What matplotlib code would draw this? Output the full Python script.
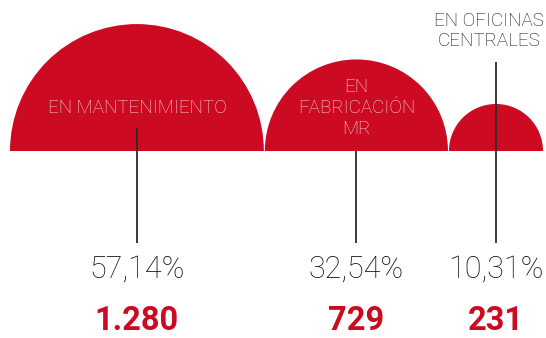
import matplotlib
matplotlib.use('Agg')
import matplotlib.pyplot as plt
from matplotlib.patches import Wedge

categories = ['EN MANTENIMIENTO', 'EN\nFABRICACIÓN\nMR', 'EN OFICINAS\nCENTRALES']
counts = [1280, 729, 231]
pct_labels = ['57,14%', '32,54%', '10,31%']
count_labels = ['1.280', '729', '231']

red = '#cc0a21'
grey = '#2b2b2b'
text_dark = '#111111'
plt.rcParams['font.family'] = ['Roboto', 'DejaVu Sans']

W, H = 546, 338
fig = plt.figure(figsize=(W / 100, H / 100), dpi=100)
ax = fig.add_axes([0, 0, 1, 1])
ax.set_xlim(0, W)
ax.set_ylim(H, 0)
ax.axis('off')

# half-disc radius grows with count**0.58, scaled to fill the row
base_y = 151
left, gap = 10, 1
scale = (W - 13 - 2 * gap) / (2 * sum(c ** 0.58 for c in counts))
radii = [scale * c ** 0.58 for c in counts]

centers = []
x = left
for r in radii:
    centers.append(x + r)
    x += 2 * r + gap

for cx, r in zip(centers, radii):
    ax.add_patch(Wedge((cx, base_y), r, 180, 360, facecolor=red, edgecolor='none'))

# leader lines from the half-discs down to the numbers
line_tops = [128, base_y, 62]
for cx, top in zip(centers, line_tops):
    ax.plot([cx, cx], [top, 243], color=grey, lw=1.3, solid_capstyle='butt')

# category names
ax.text(centers[0], 108, categories[0], ha='center', va='center', color='#f8dade',
        fontsize=13.5, fontweight='light')
ax.text(centers[1], 108, categories[1], ha='center', va='center', color='#f8dade',
        fontsize=13.5, fontweight='light', linespacing=1.25)
ax.text(centers[2] - 7, 31, categories[2], ha='center', va='center', color=text_dark,
        fontsize=13.5, fontweight='light', linespacing=1.2)

for cx, p, c in zip(centers, pct_labels, count_labels):
    ax.text(cx, 269, p, ha='center', va='center', color=text_dark, fontsize=22, fontweight='light')
    ax.text(cx, 321, c, ha='center', va='center', color=red, fontsize=23.5, fontweight='bold')

fig.savefig('out.png', dpi=100)
